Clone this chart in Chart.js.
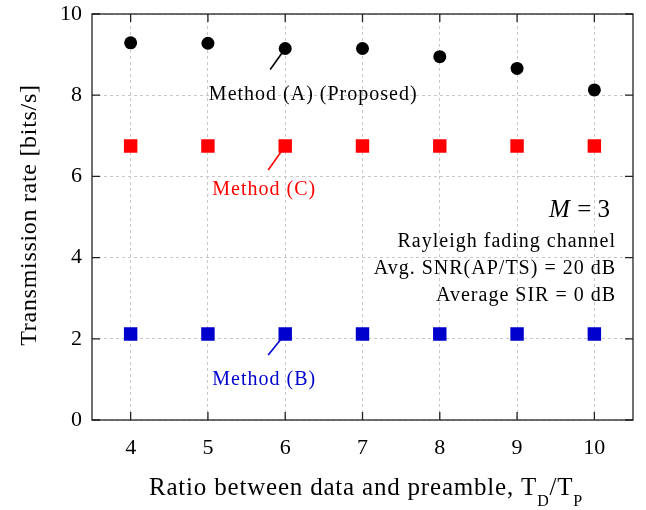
<!DOCTYPE html>
<html>
<head>
<meta charset="utf-8">
<script src="https://cdn.jsdelivr.net/npm/chart.js@4"></script>
<style>
  html, body { margin: 0; padding: 0; background: #fff; }
</style>
</head>
<body>
<canvas id="chart" width="646" height="510"></canvas>
<script>
// values
const ratios = ['4', '5', '6', '7', '8', '9', '10'];
const methodA = [9.29, 9.28, 9.15, 9.15, 8.95, 8.66, 8.13];
const methodC = [6.75, 6.75, 6.75, 6.75, 6.75, 6.75, 6.75];
const methodB = [2.12, 2.12, 2.12, 2.12, 2.12, 2.12, 2.12];
const yTicks = [0, 2, 4, 6, 8, 10];

const SERIF = '"Liberation Serif", "DejaVu Serif", serif';
const BLUE = '#0000cc';

// text labels drawn on top of the plot (pixel offsets from the marked point)
const callouts = [
  { text: 'Method (A) (Proposed)', color: '#000', ds: 0, idx: 2, dx: 28, dy: 51, line: [-15, 21] },
  { text: 'Method (C)', color: '#ff0000', ds: 1, idx: 2, dx: -21, dy: 49, line: [-17, 24] },
  { text: 'Method (B)', color: BLUE, ds: 2, idx: 2, dx: -21, dy: 51, line: [-17, 21] }
];
const infoLines = ['Rayleigh fading channel', 'Avg. SNR(AP/TS) = 20 dB', 'Average SIR = 0 dB'];

const decor = {
  id: 'decor',
  afterDraw(chart) {
    const ctx = chart.ctx;
    const a = chart.chartArea;
    const xs = chart.scales.x, ys = chart.scales.y;
    ctx.save();

    // frame
    ctx.strokeStyle = '#222';
    ctx.lineWidth = 1.3;
    ctx.strokeRect(a.left, a.top, a.right - a.left, a.bottom - a.top);

    // inward ticks on all sides
    const tl = 8;
    ctx.beginPath();
    ratios.forEach((r, i) => {
      const px = xs.getPixelForValue(i);
      ctx.moveTo(px, a.bottom); ctx.lineTo(px, a.bottom - tl);
      ctx.moveTo(px, a.top); ctx.lineTo(px, a.top + tl);
    });
    yTicks.forEach(v => {
      const py = ys.getPixelForValue(v);
      ctx.moveTo(a.left, py); ctx.lineTo(a.left + tl, py);
      ctx.moveTo(a.right, py); ctx.lineTo(a.right - tl, py);
    });
    ctx.stroke();

    // callouts
    ctx.font = '20px ' + SERIF;
    ctx.letterSpacing = '1px';
    ctx.textAlign = 'center';
    ctx.textBaseline = 'alphabetic';
    callouts.forEach(c => {
      const el = chart.getDatasetMeta(c.ds).data[c.idx];
      ctx.strokeStyle = c.color;
      ctx.fillStyle = c.color;
      ctx.lineWidth = 1.6;
      ctx.beginPath();
      ctx.moveTo(el.x, el.y);
      ctx.lineTo(el.x + c.line[0], el.y + c.line[1]);
      ctx.stroke();
      ctx.fillText(c.text, el.x + c.dx, el.y + c.dy);
    });

    // info block, right aligned
    ctx.fillStyle = '#000';
    ctx.textAlign = 'right';
    ctx.letterSpacing = '0px';
    const rx = 610;
    ctx.font = '25px ' + SERIF;
    const tail = ' = 3';
    ctx.fillText(tail, rx, 217);
    const tw = ctx.measureText(tail).width;
    ctx.font = 'italic 25px ' + SERIF;
    ctx.fillText('M', rx - tw - 1, 217);
    ctx.font = '20px ' + SERIF;
    ctx.letterSpacing = '1px';
    infoLines.forEach((t, i) => ctx.fillText(t, 616, 247 + i * 27));

    // y axis title
    ctx.save();
    ctx.translate(36, 215);
    ctx.rotate(-Math.PI / 2);
    ctx.textAlign = 'center';
    ctx.font = '24px ' + SERIF;
    ctx.letterSpacing = '0.7px';
    ctx.fillText('Transmission rate [bits/s]', 0, 0);
    ctx.restore();

    // x axis title with subscripts
    const parts = [
      { t: 'Ratio between data and preamble, T', sub: false },
      { t: 'D', sub: true },
      { t: '/T', sub: false },
      { t: 'P', sub: true }
    ];
    const big = '25px ' + SERIF, small = '16px ' + SERIF;
    ctx.letterSpacing = '0.8px';
    let total = 0;
    parts.forEach(p => { ctx.font = p.sub ? small : big; p.w = ctx.measureText(p.t).width; total += p.w; });
    let x = 366 - total / 2;
    ctx.textAlign = 'left';
    parts.forEach(p => {
      ctx.font = p.sub ? small : big;
      ctx.fillText(p.t, x, p.sub ? 506 : 495);
      x += p.w;
    });

    ctx.restore();
  }
};

new Chart(document.getElementById('chart'), {
  type: 'line',
  data: {
    labels: ratios,
    datasets: [
      { label: 'Method (A) (Proposed)', data: methodA, showLine: false,
        pointStyle: 'circle', pointRadius: 6.5, pointBackgroundColor: '#000', pointBorderWidth: 0 },
      { label: 'Method (C)', data: methodC, showLine: false,
        pointStyle: 'rect', pointRadius: 9.5, pointBackgroundColor: '#ff0000', pointBorderWidth: 0 },
      { label: 'Method (B)', data: methodB, showLine: false,
        pointStyle: 'rect', pointRadius: 9.5, pointBackgroundColor: BLUE, pointBorderWidth: 0 }
    ]
  },
  options: {
    responsive: false,
    animation: false,
    devicePixelRatio: 1,
    layout: { padding: { top: 14, right: 13, left: 0, bottom: 0 } },
    plugins: { legend: { display: false }, tooltip: { enabled: false } },
    scales: {
      x: {
        type: 'category',
        offset: true,
        grid: { color: '#c8c8c8', lineWidth: 1, drawTicks: false, offset: false },
        border: { display: false, dash: [3, 3] },
        ticks: { font: { family: SERIF, size: 22 }, color: '#000', padding: 15 },
        afterFit(s) { s.height = 90; s.paddingLeft = 0; s.paddingRight = 0; }
      },
      y: {
        min: 0, max: 10,
        grid: { color: '#c8c8c8', lineWidth: 1, drawTicks: false },
        border: { display: false, dash: [3, 3] },
        ticks: { stepSize: 2, font: { family: SERIF, size: 22 }, color: '#000', padding: 10 },
        afterBuildTicks(s) { s.ticks = yTicks.map(v => ({ value: v })); },
        afterFit(s) { s.width = 92; s.paddingTop = 0; s.paddingBottom = 0; }
      }
    }
  },
  plugins: [decor]
});
</script>
</body>
</html>
